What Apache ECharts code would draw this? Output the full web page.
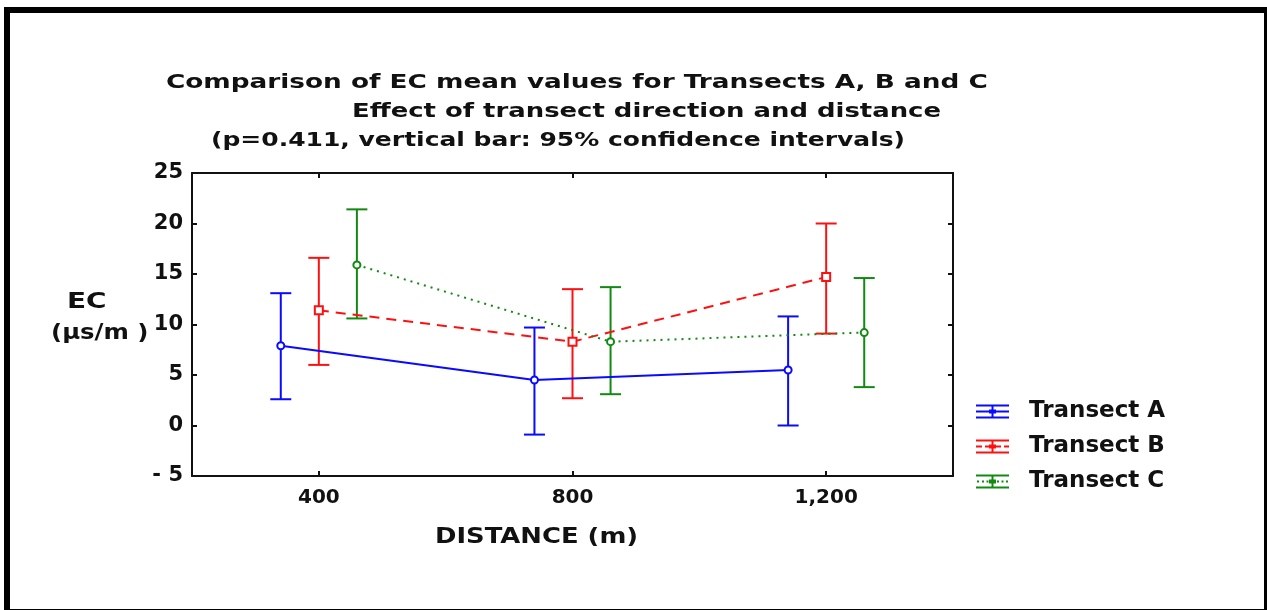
<!DOCTYPE html>
<html>
<head>
<meta charset="utf-8">
<script src="https://cdn.jsdelivr.net/npm/echarts@6/dist/echarts.min.js"></script>
<style>
  html, body { margin: 0; padding: 0; background: #ffffff; }
  #chart { width: 1267px; height: 610px; }
</style>
</head>
<body>
<div id="chart"></div>
<script>
// Title lines
const titleLines = [
  'Comparison of EC mean values for Transects A, B and C',
  'Effect of transect direction and distance',
  '(p=0.411, vertical bar: 95% confidence intervals)'
];
const xAxisTitle = 'DISTANCE (m)';
const yAxisTitle = ['EC', '(\u00b5s/m )'];

// Series names
const seriesNames = ['Transect A', 'Transect B', 'Transect C'];

// Distance positions of each transect's means (offset around 400 / 800 / 1200 m)
const distA = [340, 740, 1140];
const distB = [400, 800, 1200];
const distC = [460, 860, 1260];

// EC means (µs/m)
const meanA = [7.9, 4.5, 5.5];
const meanB = [11.4, 8.3, 14.7];
const meanC = [15.9, 8.3, 9.2];

// 95% confidence interval bounds
const lowA = [2.6, -0.9, 0.0];
const highA = [13.1, 9.7, 10.8];
const lowB = [6.0, 2.7, 9.1];
const highB = [16.6, 13.5, 20.0];
const lowC = [10.6, 3.1, 3.8];
const highC = [21.4, 13.7, 14.6];

// Axis ticks
const xTickValues = [400, 800, 1200];
const yTickValues = [-5, 0, 5, 10, 15, 20, 25];

const colors = ['#0a0aff', '#ff1010', '#128a12'];
const FONT = 'DejaVu Sans';

const dists = [distA, distB, distC];
const means = [meanA, meanB, meanC];
const lows = [lowA, lowB, lowC];
const highs = [highA, highB, highC];
const lineTypes = ['solid', [10, 7], [2, 5]];
const symbols = ['circle', 'rect', 'circle'];

function pairs(xs, ys) { return xs.map((x, i) => [x, ys[i]]); }

function errorBarRenderer(color) {
  return function (params, api) {
    const x = api.value(0);
    const lo = api.coord([x, api.value(1)]);
    const hi = api.coord([x, api.value(2)]);
    const half = 10.5;
    const style = { stroke: color, lineWidth: 2, fill: null };
    return {
      type: 'group',
      children: [
        { type: 'line', shape: { x1: lo[0], y1: lo[1], x2: hi[0], y2: hi[1] }, style: style },
        { type: 'line', shape: { x1: lo[0] - half, y1: lo[1], x2: lo[0] + half, y2: lo[1] }, style: style },
        { type: 'line', shape: { x1: hi[0] - half, y1: hi[1], x2: hi[0] + half, y2: hi[1] }, style: style }
      ]
    };
  };
}

// Legend glyphs: whisker with caps, stem, marker and the series' own line pattern
const iconFrame = 'M0,0H33V2H0Z M0,12H33V14H0Z M15.5,0H17.5V14H15.5Z M13,5H20V9H13Z ';
const legendIcons = [
  'path://' + iconFrame + 'M0,6H13V8H0Z M20,6H33V8H20Z',
  'path://' + iconFrame + 'M0,6H6V8H0Z M9,6H13V8H9Z M20,6H25V8H20Z M28,6H33V8H28Z',
  'path://' + iconFrame + 'M1,6H3V8H1Z M6,6H8V8H6Z M10.5,6H12.5V8H10.5Z M21,6H23V8H21Z M25.5,6H27.5V8H25.5Z M30,6H32V8H30Z'
];

const series = [];
seriesNames.forEach((name, k) => {
  series.push({
    name: name,
    type: 'custom',
    xAxisIndex: 0,
    yAxisIndex: 0,
    renderItem: errorBarRenderer(colors[k]),
    encode: { x: 0, y: [1, 2] },
    data: dists[k].map((x, i) => [x, lows[k][i], highs[k][i]]),
    silent: true,
    z: 2
  });
  series.push({
    name: name,
    type: 'line',
    xAxisIndex: 0,
    yAxisIndex: 0,
    data: pairs(dists[k], means[k]),
    symbol: symbols[k],
    symbolSize: symbols[k] === 'rect' ? 8 : 7,
    showSymbol: true,
    lineStyle: { color: colors[k], width: 2, type: lineTypes[k] },
    itemStyle: { color: '#ffffff', borderColor: colors[k], borderWidth: 2 },
    emphasis: { disabled: true },
    animation: false,
    z: 3
  });
});

const labelFont = { fontFamily: FONT, fontWeight: 'bold', color: '#111111' };

// Horizontally widened bold text block
function wideText(text, x, y, size, sx) {
  return {
    type: 'text', x: x, y: y, scaleX: sx, silent: true,
    style: {
      text: text, font: 'bold ' + size + 'px "DejaVu Sans"', fill: '#111111',
      textAlign: 'left', textVerticalAlign: 'middle', align: 'left', verticalAlign: 'middle'
    }
  };
}

const option = {
  backgroundColor: '#ffffff',
  animation: false,
  legend: {
    orient: 'vertical',
    left: 971,
    top: 395,
    itemWidth: 33,
    itemHeight: 14,
    itemGap: 12,
    selectedMode: false,
    textStyle: { fontFamily: FONT, fontWeight: 'bold', fontSize: 23, color: '#111111', padding: [0, 0, 0, 15] },
    data: seriesNames.map((n, k) => ({ name: n, icon: legendIcons[k], itemStyle: { color: colors[k], borderWidth: 0 } }))
  },
  grid: { left: 192, top: 173, right: 314, bottom: 134, show: false },
  xAxis: [
    {
      type: 'value', min: 200, max: 1400, position: 'bottom',
      splitLine: { show: false },
      axisLine: { show: true, onZero: false, lineStyle: { color: '#111', width: 2 } },
      axisTick: { show: true, inside: true, length: 5, customValues: xTickValues, lineStyle: { color: '#111', width: 2 } },
      axisLabel: {
        customValues: xTickValues, margin: 12, fontSize: 20, ...labelFont,
        formatter: v => v.toLocaleString('en-US')
      }
    },
    {
      type: 'value', min: 200, max: 1400, position: 'top',
      splitLine: { show: false },
      axisLine: { show: true, onZero: false, lineStyle: { color: '#111', width: 2 } },
      axisTick: { show: true, inside: true, length: 5, customValues: xTickValues, lineStyle: { color: '#111', width: 2 } },
      axisLabel: { show: false }
    }
  ],
  yAxis: [
    {
      type: 'value', min: -5, max: 25, interval: 5, position: 'left',
      splitLine: { show: false },
      axisLine: { show: true, onZero: false, lineStyle: { color: '#111', width: 2 } },
      axisTick: { show: true, inside: true, length: 5, customValues: yTickValues, lineStyle: { color: '#111', width: 2 } },
      axisLabel: {
        customValues: yTickValues, margin: 9, fontSize: 21, ...labelFont,
        formatter: v => (v < 0 ? '- ' + Math.abs(v) : String(v))
      }
    },
    {
      type: 'value', min: -5, max: 25, interval: 5, position: 'right',
      splitLine: { show: false },
      axisLine: { show: true, onZero: false, lineStyle: { color: '#111', width: 2 } },
      axisTick: { show: true, inside: true, length: 5, customValues: yTickValues, lineStyle: { color: '#111', width: 2 } },
      axisLabel: { show: false }
    }
  ],
  graphic: [
    {
      type: 'rect', left: 4, top: 7, silent: true,
      shape: { x: 0, y: 0, width: 1260, height: 602 },
      style: { fill: null, stroke: '#000000', lineWidth: 6 }
    },
    wideText(titleLines[0], 166, 83, 20, 1.315),
    wideText(titleLines[1], 352, 112, 20, 1.295),
    wideText(titleLines[2], 211, 141, 20, 1.25),
    wideText(xAxisTitle, 435, 537, 22, 1.175),
    wideText(yAxisTitle[0], 67, 303, 21, 1.33),
    wideText(yAxisTitle[1], 51, 334, 21, 1.16)
  ],
  series: series
};

const chart = echarts.init(document.getElementById('chart'), null, { renderer: 'canvas' });
chart.setOption(option);
</script>
</body>
</html>
